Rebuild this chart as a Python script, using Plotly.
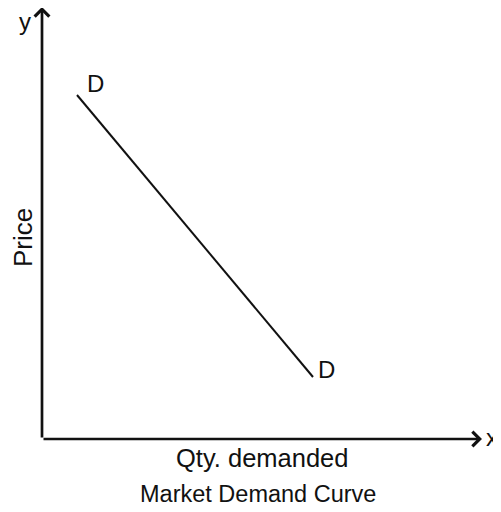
import plotly.graph_objects as go

# Demand curve (arbitrary units: quantity vs price)
qty = [35, 271]
price = [344, 62]
point_labels = ["D", "D"]
x_axis_label = "Qty. demanded"
y_axis_label = "Price"
chart_title = "Market Demand Curve"

X_MAX = 440
Y_TOP = 431
Y_ARROW = 432
FONT = "Liberation Sans, Arial, sans-serif"
INK = "#111111"

fig = go.Figure()
fig.add_trace(go.Scatter(x=qty, y=price, mode="lines",
                         line=dict(color=INK, width=2), hoverinfo="skip"))

ann = []
# axes with arrows
for tip in [(X_MAX, 0), (0, Y_ARROW)]:
    ann.append(dict(x=tip[0], y=tip[1], ax=0, ay=0, xref="x", yref="y",
                    axref="x", ayref="y", showarrow=True, arrowhead=4,
                    arrowsize=1.05, arrowwidth=2.7, arrowcolor=INK, text="",
                    standoff=0, startstandoff=0))


def f(size):
    return dict(family=FONT, size=size, color=INK)


ann.append(dict(x=X_MAX, y=2, xref="x", yref="y", text="x", showarrow=False,
                xanchor="center", yanchor="middle", xshift=10, font=f(24)))
ann.append(dict(x=0, y=Y_TOP, xref="x", yref="y", text="y", showarrow=False,
                xanchor="center", yanchor="top", xshift=-17, yshift=2, font=f(24)))
ann.append(dict(x=qty[0], y=price[0], xref="x", yref="y", text=point_labels[0],
                showarrow=False, xanchor="center", yanchor="middle",
                xshift=18, yshift=12, font=f(24)))
ann.append(dict(x=qty[1], y=price[1], xref="x", yref="y", text=point_labels[1],
                showarrow=False, xanchor="center", yanchor="middle",
                xshift=13, yshift=8, font=f(24)))
ann.append(dict(x=219.5, y=0, xref="x", yref="y", text=x_axis_label,
                showarrow=False, xanchor="center", yanchor="middle",
                yshift=-19, font=f(25.5)))
ann.append(dict(x=216, y=0, xref="x", yref="y", text=chart_title,
                showarrow=False, xanchor="center", yanchor="middle",
                yshift=-55, font=f(23.5)))
ann.append(dict(x=0, y=201, xref="x", yref="y", text=y_axis_label,
                showarrow=False, xanchor="center", yanchor="middle", textangle=-90,
                xshift=-19, font=f(26)))

fig.update_layout(
    width=493, height=504,
    margin=dict(l=34, r=19, t=0, b=73),
    paper_bgcolor="white", plot_bgcolor="white",
    showlegend=False,
    annotations=ann,
    xaxis=dict(range=[0, X_MAX], visible=False, fixedrange=True),
    yaxis=dict(range=[0, Y_TOP], visible=False, fixedrange=True),
)
fig.write_html("out.html")
